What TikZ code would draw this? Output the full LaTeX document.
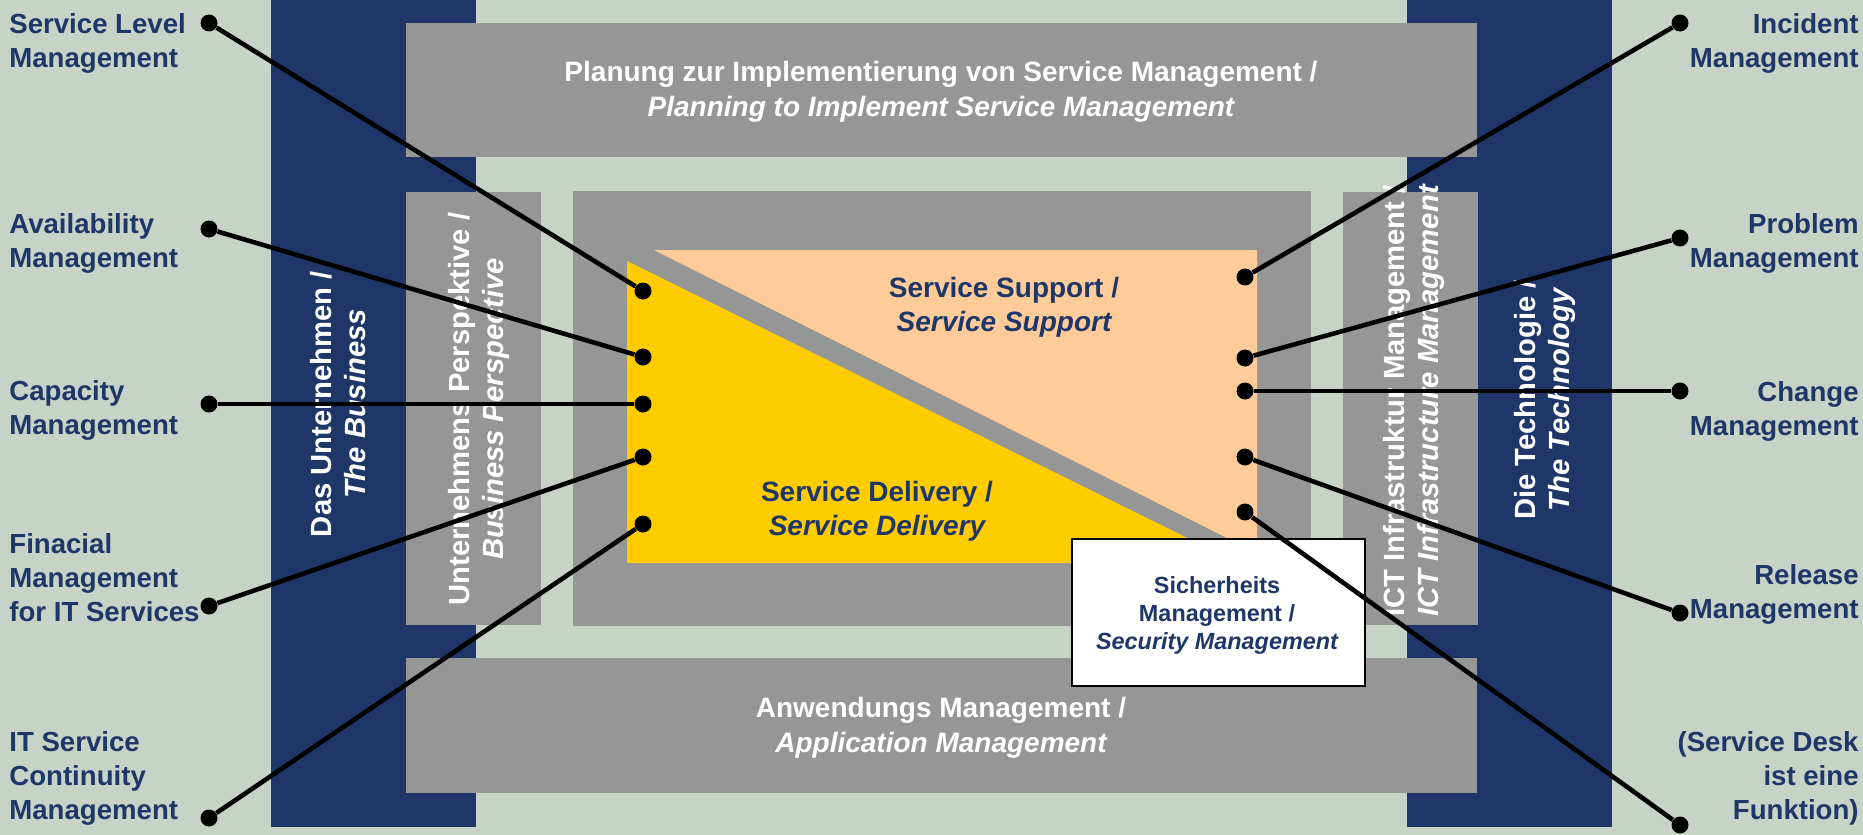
\documentclass[tikz,border=0pt]{standalone}
\usepackage{fontspec}
\setmainfont{Liberation Sans}
\definecolor{bgc}{RGB}{200,211,199}
\definecolor{navy}{RGB}{30,54,104}
\definecolor{boxgray}{RGB}{150,150,150}
\definecolor{peach}{RGB}{255,204,153}
\definecolor{gold}{RGB}{255,204,0}
\begin{document}
\begin{tikzpicture}[x=0.5pt,y=-0.5pt,
  lbl/.style={font=\fontsize{13.8}{17}\selectfont\bfseries, text=navy, inner sep=0pt},
  lblL/.style={lbl, align=left, anchor=west},
  lblR/.style={lbl, align=right, anchor=east},
  wtxt/.style={font=\fontsize{14}{17.5}\selectfont\bfseries, text=white, align=center, inner sep=0pt},
  rtxt/.style={font=\fontsize{14.6}{17}\selectfont\bfseries, text=white, align=center, rotate=90, inner sep=0pt},
  ntxt/.style={font=\fontsize{14}{17}\selectfont\bfseries, text=navy, align=center, inner sep=0pt},
  stxt/.style={font=\fontsize{11.7}{14}\selectfont\bfseries, text=navy, align=center, inner sep=0pt},
  dot/.style={circle, fill=black, inner sep=0pt, minimum size=8.5pt},
  link/.style={line width=2.3pt, draw=black}]
\useasboundingbox (0,0) rectangle (1863,835);
\fill[bgc] (0,0) rectangle (1863,835);
% blue bars
\fill[navy] (271,0) rectangle (476,827);
\fill[navy] (1407,0) rectangle (1612,827);
% gray boxes
\fill[boxgray] (406,23) rectangle (1477,157);
\fill[boxgray] (406,192) rectangle (541,625);
\fill[boxgray] (573,191) rectangle (1311,626);
\fill[boxgray] (1343,192) rectangle (1478,625);
\fill[boxgray] (406,658) rectangle (1477,793);
% triangles
\fill[peach] (654,250) -- (1257,250) -- (1257,553) -- cycle;
\fill[gold] (627,261) -- (627,563) -- (1238,563) -- cycle;
% texts in boxes
\node[wtxt] (plan) at (941,92) {Planung zur Implementierung von Service Management /\\\itshape Planning to Implement Service Management};
\node[wtxt] (appl) at (941,728) {Anwendungs Management /\\\itshape Application Management};
\node[rtxt] (bus) at (338,404) {Das Unternehmen /\\\itshape The Business};
\node[rtxt] (persp) at (479,409) {Unternehmens Perspektive /\\\itshape Business Perspective};
\node[rtxt] (ict) at (1414,401) {ICT Infrastruktur Management /\\\itshape ICT Infrastructure Management};
\node[rtxt] (tech) at (1545,400) {Die Technologie /\\\itshape The Technology};
\node[ntxt] (supp) at (1004,307) {Service Support /\\\itshape Service Support};
\node[ntxt] (deliv) at (877,511) {Service Delivery /\\\itshape Service Delivery};
% security box
\node[draw=black, line width=0.8pt, fill=white, minimum width=146.5pt, minimum height=73.5pt, inner sep=0pt] (secbox) at (1218.5,612.5) {};
\node[stxt] (sec) at (1217,615) {Sicherheits\\Management /\\\itshape Security Management};
% outer labels
\node[lblL] (tl1) at (9,43.5) {Service Level\\Management};
\node[lblL] (tl2) at (9,243) {Availability\\Management};
\node[lblL] (tl3) at (9,410.5) {Capacity\\Management};
\node[lblL] (tl4) at (9,577.5) {Finacial\\Management\\for IT Services};
\node[lblL] (tl5) at (9,778) {IT Service\\Continuity\\Management};
\node[lblR] (tr1) at (1859,43) {Incident\\Management};
\node[lblR] (tr2) at (1859,243) {Problem\\Management};
\node[lblR] (tr3) at (1859,411) {Change\\Management};
\node[lblR] (tr4) at (1859,594.5) {Release\\Management};
\node[lblR] (tr5) at (1859,778.5) {(Service Desk\\ist eine\\Funktion)};
% dots
\node[dot] (l1) at (209,23) {};
\node[dot] (l2) at (209,229) {};
\node[dot] (l3) at (209,404) {};
\node[dot] (l4) at (209,606) {};
\node[dot] (l5) at (209,818) {};
\node[dot] (a1) at (643,291) {};
\node[dot] (a2) at (643,357) {};
\node[dot] (a3) at (643,404) {};
\node[dot] (a4) at (643,457) {};
\node[dot] (a5) at (643,524) {};
\node[dot] (r1) at (1680,23) {};
\node[dot] (r2) at (1680,238) {};
\node[dot] (r3) at (1680,391) {};
\node[dot] (r4) at (1680,613) {};
\node[dot] (r5) at (1680,825) {};
\node[dot] (b1) at (1245,277) {};
\node[dot] (b2) at (1245,358) {};
\node[dot] (b3) at (1245,391) {};
\node[dot] (b4) at (1245,457) {};
\node[dot] (b5) at (1245,512) {};
% links
\draw[link] (l1) -- (a1);
\draw[link] (l2) -- (a2);
\draw[link] (l3) -- (a3);
\draw[link] (l4) -- (a4);
\draw[link] (l5) -- (a5);
\draw[link] (r1) -- (b1);
\draw[link] (r2) -- (b2);
\draw[link] (r3) -- (b3);
\draw[link] (r4) -- (b4);
\draw[link] (r5) -- (b5);
\end{tikzpicture}
\end{document}
